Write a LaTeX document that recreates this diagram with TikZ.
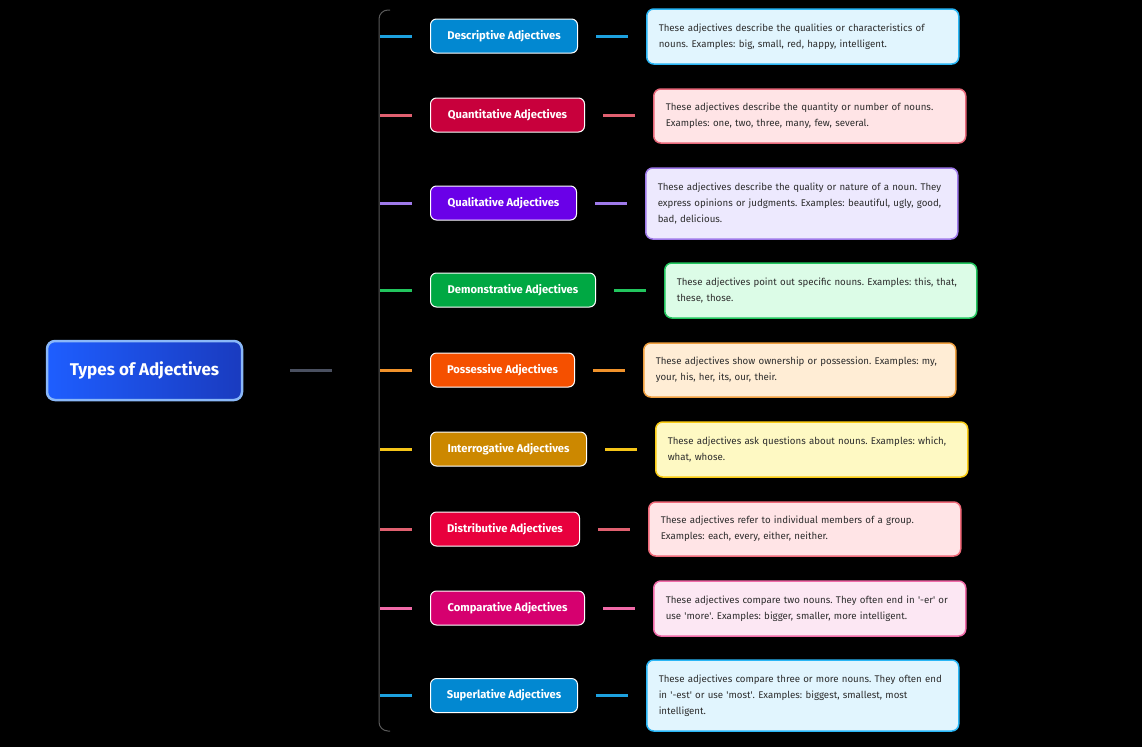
\documentclass[tikz,border=0pt]{standalone}
\usepackage{fontspec}
\setmainfont{Fira Sans}
\frenchspacing
\definecolor{bg}{HTML}{000000}
\definecolor{rootA}{HTML}{1E5EFF}
\definecolor{rootB}{HTML}{1A3BBF}
\definecolor{rootBd}{HTML}{8AB8F8}
\definecolor{rootLn}{HTML}{4A5060}
\definecolor{brk}{HTML}{5A5A5A}
\definecolor{txt}{HTML}{2D2D2D}
% row colours: cat fill, stub, desc fill, desc border
\definecolor{c1}{HTML}{0288D1}\definecolor{s1}{HTML}{1DA1DF}\definecolor{f1}{HTML}{E1F5FE}\definecolor{e1}{HTML}{29B6F6}
\definecolor{c2}{HTML}{C8003C}\definecolor{s2}{HTML}{E06070}\definecolor{f2}{HTML}{FFE4E6}\definecolor{e2}{HTML}{E8687A}
\definecolor{c3}{HTML}{6A00E8}\definecolor{s3}{HTML}{9F7AEA}\definecolor{f3}{HTML}{EDE9FE}\definecolor{e3}{HTML}{9F7AEA}
\definecolor{c4}{HTML}{00A843}\definecolor{s4}{HTML}{22C55E}\definecolor{f4}{HTML}{DCFCE7}\definecolor{e4}{HTML}{22C55E}
\definecolor{c5}{HTML}{F55000}\definecolor{s5}{HTML}{F0922B}\definecolor{f5}{HTML}{FFEDD5}\definecolor{e5}{HTML}{F0A040}
\definecolor{c6}{HTML}{CC8800}\definecolor{s6}{HTML}{F5C518}\definecolor{f6}{HTML}{FEF9C3}\definecolor{e6}{HTML}{FACC15}
\definecolor{c7}{HTML}{E8003D}\definecolor{s7}{HTML}{E06070}\definecolor{f7}{HTML}{FFE4E6}\definecolor{e7}{HTML}{F06A7A}
\definecolor{c8}{HTML}{D6006F}\definecolor{s8}{HTML}{F06AA8}\definecolor{f8}{HTML}{FCE7F3}\definecolor{e8}{HTML}{F06AA8}
\definecolor{c9}{HTML}{0288D1}\definecolor{s9}{HTML}{1DA1DF}\definecolor{f9}{HTML}{E1F5FE}\definecolor{e9}{HTML}{29B6F6}
\newcommand{\sq}{\textquotesingle}
\tikzset{
  rootbox/.style={rounded corners=8pt, draw=rootBd, line width=2.5pt, left color=rootA, right color=rootB,
    minimum width=195pt, minimum height=59pt, text=white, font=\fontsize{17}{20}\selectfont\bfseries, inner sep=0pt},
  catbox/.style={rounded corners=6pt, draw=white, line width=1pt, minimum height=34pt, anchor=west,
    text=white, font=\fontsize{11.2}{13}\selectfont\bfseries, inner sep=0pt},
  descbox/.style={rounded corners=7pt, line width=1.5pt, anchor=west, text width=288pt, inner xsep=12pt,
    inner ysep=0pt, align=left, text=txt, font=\fontsize{9.7}{16}\selectfont},
  stub/.style={line width=3pt},
  rootline/.style={draw=rootLn, line width=3pt},
  bracket/.style={draw=brk, line width=1pt}
}
\begin{document}
\begin{tikzpicture}[x=1pt,y=-1pt]
\fill[bg] (0,0) rectangle (1142,747);
\useasboundingbox (0,0) rectangle (1142,747);

\node[rootbox] (root) at (144.5,370.5) {Types of Adjectives};

\draw[bracket, rounded corners=9pt] (390,10) -- (379,10) -- (379,731) -- (390,731);
\coordinate (bm) at (379,370.5);
\draw[rootline] ([xshift=47pt]root.east) -- ([xshift=-47pt]bm);

% categories
\node[catbox, fill=c1, minimum width=147pt] (k1) at (430,36) {Descriptive Adjectives};
\node[catbox, fill=c2, minimum width=154pt] (k2) at (430,115) {Quantitative Adjectives};
\node[catbox, fill=c3, minimum width=146pt] (k3) at (430,203) {Qualitative Adjectives};
\node[catbox, fill=c4, minimum width=165pt] (k4) at (430,290) {Demonstrative Adjectives};
\node[catbox, fill=c5, minimum width=144pt] (k5) at (430,370) {Possessive Adjectives};
\node[catbox, fill=c6, minimum width=156pt] (k6) at (430,449) {Interrogative Adjectives};
\node[catbox, fill=c7, minimum width=149pt] (k7) at (430,529) {Distributive Adjectives};
\node[catbox, fill=c8, minimum width=154pt] (k8) at (430,608) {Comparative Adjectives};
\node[catbox, fill=c9, minimum width=147pt] (k9) at (430,695.5) {Superlative Adjectives};

% descriptions
\node[descbox, fill=f1, draw=e1, minimum height=55pt] (d1) at (646,36.5)
  {These adjectives describe the qualities or characteristics of\\nouns. Examples: big, small, red, happy, intelligent.};
\node[descbox, fill=f2, draw=e2, minimum height=54pt] (d2) at (653,116)
  {These adjectives describe the quantity or number of nouns.\\Examples: one, two, three, many, few, several.};
\node[descbox, fill=f3, draw=e3, minimum height=71pt] (d3) at (645,203.5)
  {These adjectives describe the quality or nature of a noun. They\\express opinions or judgments. Examples: beautiful, ugly, good,\\bad, delicious.};
\node[descbox, fill=f4, draw=e4, minimum height=55pt] (d4) at (664,290.5)
  {These adjectives point out specific nouns. Examples: this, that,\\these, those.};
\node[descbox, fill=f5, draw=e5, minimum height=54pt] (d5) at (643,370)
  {These adjectives show ownership or possession. Examples: my,\\your, his, her, its, our, their.};
\node[descbox, fill=f6, draw=e6, minimum height=55pt] (d6) at (655,449.5)
  {These adjectives ask questions about nouns. Examples: which,\\what, whose.};
\node[descbox, fill=f7, draw=e7, minimum height=54pt] (d7) at (648,529)
  {These adjectives refer to individual members of a group.\\Examples: each, every, either, neither.};
\node[descbox, fill=f8, draw=e8, minimum height=55pt] (d8) at (653,608.5)
  {These adjectives compare two nouns. They often end in \sq-er\sq{} or\\use \sq more\sq. Examples: bigger, smaller, more intelligent.};
\node[descbox, fill=f9, draw=e9, minimum height=71pt] (d9) at (646,695.5)
  {These adjectives compare three or more nouns. They often end\\in \sq-est\sq{} or use \sq most\sq. Examples: biggest, smallest, most\\intelligent.};

% bracket attach points
\coordinate (b1) at (380,36);
\coordinate (b2) at (380,115);
\coordinate (b3) at (380,203);
\coordinate (b4) at (380,290);
\coordinate (b5) at (380,370);
\coordinate (b6) at (380,449);
\coordinate (b7) at (380,529);
\coordinate (b8) at (380,608);
\coordinate (b9) at (380,695.5);

\foreach \i in {1,...,9}{
  \draw[stub, draw=s\i] (b\i) -- ([xshift=-18pt]k\i.west);
  \draw[stub, draw=s\i] ([xshift=18pt]k\i.east) -- ([xshift=-18pt]d\i.west |- k\i.east);
}
\end{tikzpicture}
\end{document}
